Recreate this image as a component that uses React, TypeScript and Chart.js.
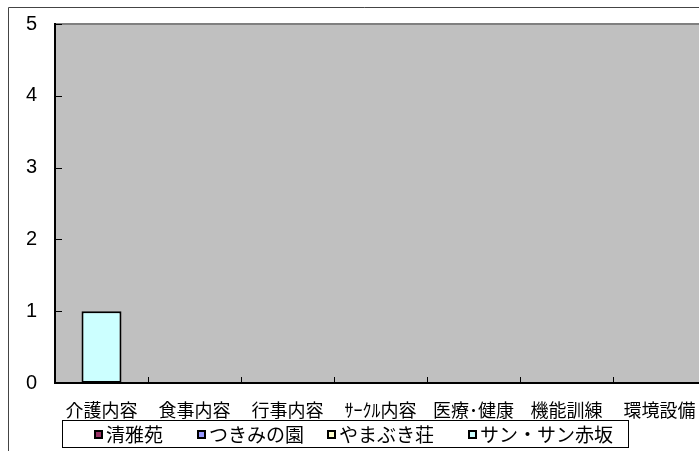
import React, { useEffect, useRef } from "react";
import { Chart, registerables } from "chart.js";

Chart.register(...registerables);

const categories = ["介護内容", "食事内容", "行事内容", "ｻｰｸﾙ内容", "医療･健康", "機能訓練", "環境設備"];
const seiga = [0, 0, 0, 0, 0, 0, 0];
const tsukimi = [0, 0, 0, 0, 0, 0, 0];
const yamabuki = [0, 0, 0, 0, 0, 0, 0];
const sunsun = [1, 0, 0, 0, 0, 0, 0];
const seriesNames = ["清雅苑", "つきみの園", "やまぶき荘", "サン・サン赤坂"];
const seriesColors = ["#993366", "#9999FF", "#FFFFCC", "#CCFFFF"];
const yTicks = [0, 1, 2, 3, 4, 5];

const JP = "'Noto Sans CJK JP', 'Noto Sans', sans-serif";
const LAT = "'Liberation Sans', Arial, sans-serif";

const toBars = (arr: number[]) => arr.map((v) => (v === 0 ? null : v));

const framePlugin = {
  id: "frame",
  beforeDraw(chart: any) {
    const { ctx, chartArea: a } = chart;
    ctx.save();
    ctx.strokeStyle = "#444";
    ctx.lineWidth = 1;
    ctx.beginPath();
    ctx.moveTo(8.5, chart.height + 5);
    ctx.lineTo(8.5, 7.5);
    ctx.lineTo(chart.width + 5, 7.5);
    ctx.stroke();
    ctx.fillStyle = "#C0C0C0";
    ctx.fillRect(a.left, a.top, a.right - a.left, a.bottom - a.top);
    ctx.strokeStyle = "#808080";
    ctx.lineWidth = 2;
    ctx.beginPath();
    ctx.moveTo(a.left, a.top);
    ctx.lineTo(a.right, a.top);
    ctx.lineTo(a.right, a.bottom);
    ctx.stroke();
    ctx.restore();
  },
  afterDraw(chart: any) {
    const { ctx, chartArea: a, scales } = chart;
    ctx.save();
    ctx.strokeStyle = "#000";
    ctx.lineWidth = 2;
    ctx.beginPath();
    ctx.moveTo(a.left, a.top - 1);
    ctx.lineTo(a.left, a.bottom);
    ctx.lineTo(a.right, a.bottom);
    ctx.stroke();
    ctx.lineWidth = 1;
    ctx.beginPath();
    yTicks.forEach((v) => {
      const y = Math.round(scales.y.getPixelForValue(v)) + 0.5;
      ctx.moveTo(a.left, y);
      ctx.lineTo(a.left + 7, y);
    });
    const n = categories.length;
    const w = (a.right - a.left) / n;
    for (let i = 1; i < n; i++) {
      const x = Math.round(a.left + i * w) + 0.5;
      ctx.moveTo(x, a.bottom);
      ctx.lineTo(x, a.bottom - 6);
    }
    ctx.stroke();

    const box = { l: 62, t: 420, r: 628, b: 447 };
    ctx.fillStyle = "#fff";
    ctx.fillRect(box.l, box.t, box.r - box.l, box.b - box.t);
    ctx.strokeStyle = "#000";
    ctx.lineWidth = 1;
    ctx.strokeRect(box.l + 0.5, box.t + 0.5, box.r - box.l, box.b - box.t);
    const markerX = [94, 197, 327, 468];
    ctx.font = `19px ${JP}`;
    ctx.textBaseline = "middle";
    ctx.textAlign = "left";
    chart.data.datasets.forEach((ds: any, i: number) => {
      const mx = markerX[i];
      const my = 430;
      ctx.fillStyle = ds.backgroundColor;
      ctx.fillRect(mx, my, 8, 8);
      ctx.lineWidth = 2;
      ctx.strokeStyle = "#000";
      ctx.strokeRect(mx + 1, my + 1, 7, 7);
      ctx.fillStyle = "#000";
      ctx.fillText(ds.label, mx + 12, 435);
    });
    ctx.restore();
  },
};

export default function App() {
  const ref = useRef<HTMLCanvasElement>(null);
  useEffect(() => {
    document.body.style.margin = "0";
    const series = [seiga, tsukimi, yamabuki, sunsun];
    const chart = new Chart(ref.current!, {
      type: "bar",
      data: {
        labels: categories,
        datasets: series.map((s, i) => ({
          label: seriesNames[i],
          data: toBars(s),
          backgroundColor: seriesColors[i],
          borderColor: "#000",
          borderWidth: 2,
          borderSkipped: false,
          categoryPercentage: 1,
          barPercentage: 0.43,
        })),
      },
      options: {
        animation: false,
        responsive: false,
        maintainAspectRatio: false,
        layout: { padding: { left: 0, top: 24, right: 14, bottom: 0 } },
        plugins: { legend: { display: false }, tooltip: { enabled: false } },
        scales: {
          x: {
            stacked: true,
            grid: { display: false, drawTicks: false },
            border: { display: false },
            ticks: {
              font: { family: JP, size: 18 },
              color: "#000",
              padding: 16,
              maxRotation: 0,
              autoSkip: false,
            },
            afterFit: (s: any) => {
              s.height = 68;
              s.paddingLeft = 0;
              s.paddingRight = 0;
            },
          },
          y: {
            stacked: true,
            min: 0,
            max: 5,
            grid: { display: false, drawTicks: false },
            border: { display: false },
            ticks: {
              stepSize: 1,
              font: { family: LAT, size: 20 },
              color: "#000",
              padding: 18,
            },
            afterFit: (s: any) => {
              s.width = 55;
              s.paddingTop = 0;
              s.paddingBottom = 0;
            },
          },
        },
      },
      plugins: [framePlugin],
    });
    return () => chart.destroy();
  }, []);
  return (
    <div style={{ position: "absolute", left: 0, top: 0, width: 699, height: 451, overflow: "hidden", background: "#fff" }}>
      <canvas ref={ref} width={720} height={451} style={{ width: 720, height: 451, display: "block" }} />
    </div>
  );
}
